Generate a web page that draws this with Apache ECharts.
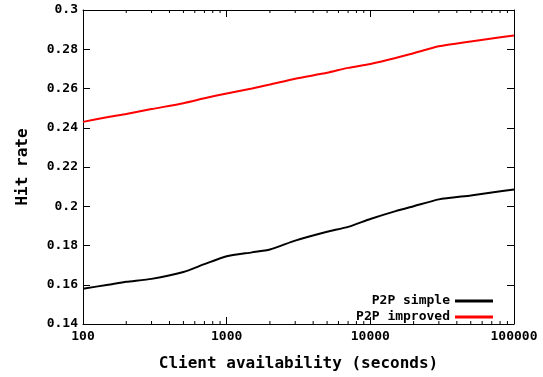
<!DOCTYPE html>
<html><head><meta charset="utf-8">
<script src="https://cdn.jsdelivr.net/npm/echarts@6/dist/echarts.min.js"></script>
<style>html,body{margin:0;padding:0;background:#fff}#c{width:543px;height:377px}</style>
</head><body><div id="c"></div>
<script>
const xValues = [100, 150, 200, 300, 500, 700, 1000, 1500, 2000, 3000, 5000, 7000, 10000, 15000, 20000, 30000, 50000, 70000, 100000];
const simple = [0.158, 0.160, 0.1615, 0.163, 0.1665, 0.1705, 0.1745, 0.1765, 0.178, 0.1825, 0.187, 0.1895, 0.1935, 0.1975, 0.200, 0.2035, 0.2055, 0.207, 0.2085];
const improved = [0.243, 0.2455, 0.247, 0.2495, 0.2525, 0.255, 0.2575, 0.260, 0.262, 0.265, 0.268, 0.2705, 0.2725, 0.2755, 0.278, 0.2815, 0.284, 0.2855, 0.287];
const minorTicks = [200,300,400,500,600,700,800,900,2000,3000,4000,5000,6000,7000,8000,9000,20000,30000,40000,50000,60000,70000,80000,90000];
const seriesNames = ['P2P simple', 'P2P improved'];

const FONT = "'DejaVu Sans Mono', monospace";
const chart = echarts.init(document.getElementById('c'));
const pair = (xs, ys) => xs.map((x, i) => [x, ys[i]]);
const axisLine = {show: true, lineStyle: {color: '#000', width: 1}};

chart.setOption({
  animation: false,
  grid: {left: 83, right: 29, top: 10, bottom: 50},
  legend: {
    data: seriesNames, orient: 'vertical', right: 45, top: 288, align: 'right',
    icon: 'rect', itemWidth: 38, itemHeight: 3, itemGap: 0,
    textStyle: {fontFamily: FONT, fontWeight: 'bold', fontSize: 13, color: '#000', lineHeight: 16}
  },
  xAxis: [{
    type: 'log', logBase: 10, min: 100, max: 100000,
    name: 'Client availability (seconds)', nameLocation: 'middle', nameGap: 32,
    nameTextStyle: {fontFamily: FONT, fontWeight: 'bold', fontSize: 16, color: '#000'},
    axisLine: axisLine, axisTick: {show: true, inside: true, length: 7, lineStyle: {color: '#000', width: 1}},
    splitLine: {show: false},
    axisLabel: {fontFamily: FONT, fontWeight: 'bold', fontSize: 13, color: '#000', margin: 6,
      formatter: v => String(Math.round(v))}
  }, {
    type: 'log', logBase: 10, min: 100, max: 100000, position: 'top',
    axisLine: axisLine, axisTick: {show: true, inside: true, length: 7, lineStyle: {color: '#000', width: 1}},
    axisLabel: {show: false}, splitLine: {show: false}
  }],
  yAxis: [{
    type: 'value', min: 0.14, max: 0.3, interval: 0.02,
    name: 'Hit rate', nameLocation: 'middle', nameGap: 52, nameRotate: 90,
    nameTextStyle: {fontFamily: FONT, fontWeight: 'bold', fontSize: 16, color: '#000'},
    axisLine: axisLine, axisTick: {show: true, inside: true, length: 7, lineStyle: {color: '#000'}},
    splitLine: {show: false},
    axisLabel: {fontFamily: FONT, fontWeight: 'bold', fontSize: 13, color: '#000', margin: 5}
  }, {
    type: 'value', min: 0.14, max: 0.3, interval: 0.02, position: 'right',
    axisLine: axisLine, axisTick: {show: true, inside: true, length: 7, lineStyle: {color: '#000'}},
    axisLabel: {show: false}, splitLine: {show: false}
  }],
  series: [{
    name: seriesNames[0], type: 'line', data: pair(xValues, simple), showSymbol: false,
    smooth: 0.2, lineStyle: {color: '#000', width: 2}, itemStyle: {color: '#000'}, z: 3
  }, {
    name: seriesNames[1], type: 'line', data: pair(xValues, improved), showSymbol: false,
    smooth: 0.2, lineStyle: {color: '#ff0000', width: 2}, itemStyle: {color: '#ff0000'}, z: 3
  }, {
    name: 'minor', type: 'custom', silent: true, clip: false, xAxisIndex: 0, yAxisIndex: 0,
    data: minorTicks.map(v => [v, 0.2]),
    encode: {x: 0, y: 1},
    z: 2,
    renderItem: function (params, api) {
      const v = api.value(0);
      const b = api.coord([v, 0.14]);
      const t = api.coord([v, 0.3]);
      return {type: 'group', children: [
        {type: 'line', shape: {x1: b[0], y1: b[1], x2: b[0], y2: b[1] - 3}, style: {stroke: '#000', lineWidth: 1}},
        {type: 'line', shape: {x1: t[0], y1: t[1], x2: t[0], y2: t[1] + 3}, style: {stroke: '#000', lineWidth: 1}}
      ]};
    }
  }]
});
</script></body></html>
